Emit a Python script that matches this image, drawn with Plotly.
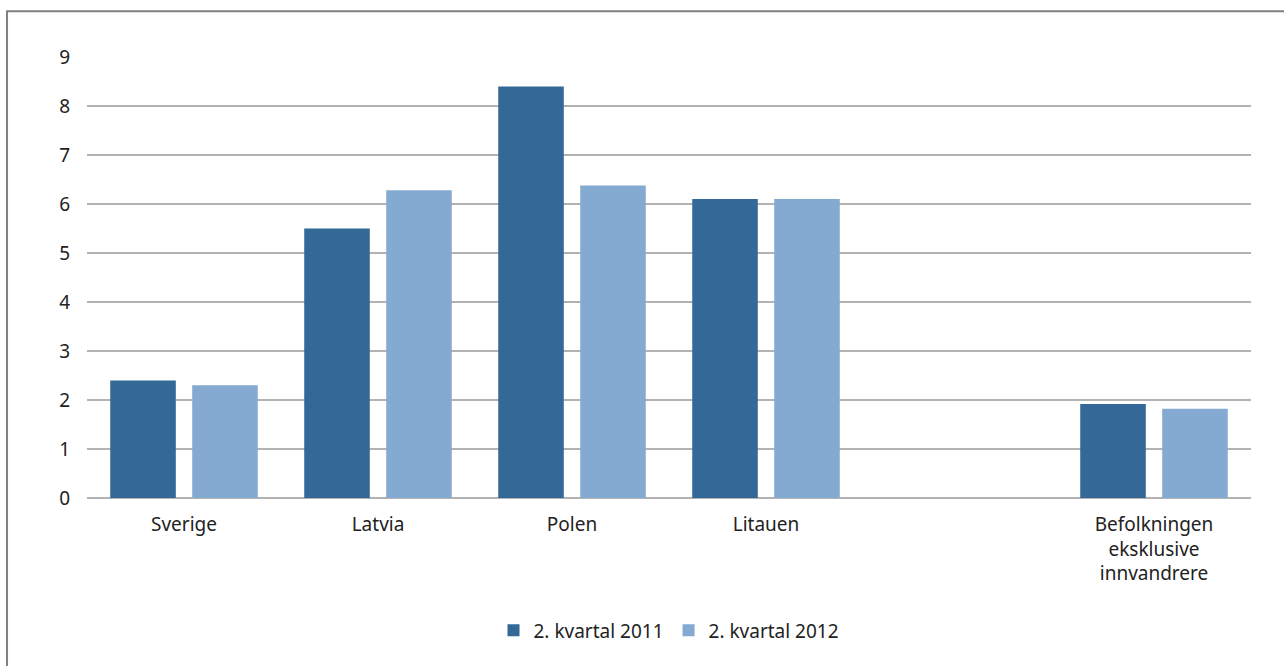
import plotly.graph_objects as go

categories = ["Sverige", "Latvia", "Polen", "Litauen", " ", "Befolkningen<br>eksklusive<br>innvandrere"]
series_2011 = [2.4, 5.5, 8.4, 6.1, None, 1.92]
series_2012 = [2.3, 6.28, 6.38, 6.1, None, 1.82]
series_names = ["2. kvartal 2011", "2. kvartal 2012"]
y_ticks = [0, 1, 2, 3, 4, 5, 6, 7, 8, 9]

FONT = "Noto Sans"
TXT = "#222222"

fig = go.Figure()
fig.add_trace(go.Bar(x=categories, y=series_2011, name=series_names[0],
                     marker=dict(color="#346896", line=dict(width=0))))
fig.add_trace(go.Bar(x=categories, y=series_2012, name=series_names[1],
                     marker=dict(color="#85aad2", line=dict(width=0))))

fig.update_layout(
    width=1284, height=666,
    margin=dict(l=87, r=33, t=57, b=168),
    paper_bgcolor="white", plot_bgcolor="white",
    barmode="group", bargap=0.155, bargroupgap=0.2,
    font=dict(family=FONT, size=19, color=TXT),
    showlegend=True,
    legend=dict(orientation="h", x=0.5, xanchor="center", y=-0.30, yanchor="middle",
                font=dict(size=19, color=TXT), itemwidth=30, traceorder="normal"),
    xaxis=dict(type="category", showgrid=False, showline=False, ticks="",
               tickfont=dict(size=19, color=TXT), ticklabelstandoff=13),
    yaxis=dict(range=[0, 9], tickvals=y_ticks, showgrid=True, gridcolor="#b3b3b3",
               gridwidth=1.5, zeroline=True, zerolinecolor="#b3b3b3", zerolinewidth=1.5,
               showline=False, ticks="", ticklabelstandoff=16,
               tickfont=dict(size=19, color=TXT)),
    shapes=[dict(type="rect", xref="paper", yref="paper",
                 x0=-0.0687, x1=1.2, y0=-0.6, y1=1.104,
                 line=dict(color="#808080", width=2), fillcolor="rgba(0,0,0,0)",
                 layer="below")],
)

fig.write_html("out.html")
